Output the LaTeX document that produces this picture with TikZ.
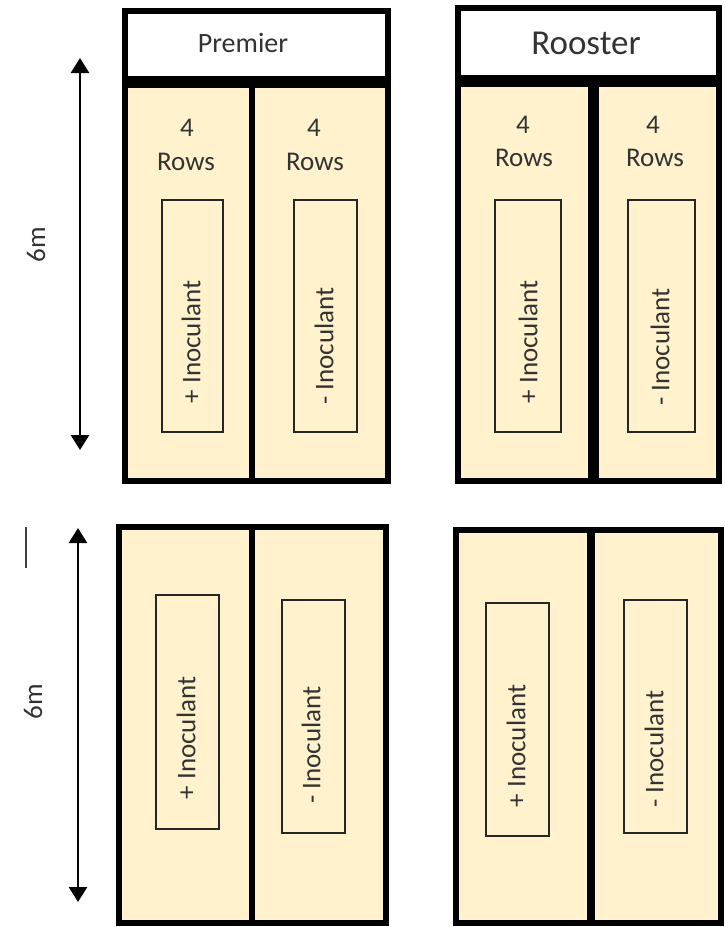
\documentclass[tikz,border=0pt]{standalone}
\usepackage{fontspec}
\setmainfont{Carlito}
\usetikzlibrary{arrows.meta}
\definecolor{cream}{HTML}{FFF2CC}
\definecolor{txt}{HTML}{333333}
\begin{document}
\begin{tikzpicture}[x=1pt,y=-1pt,
  plotbox/.style={draw=black,line width=6pt,fill=cream},
  hdrbox/.style={draw=black,line width=6pt,fill=white},
  trtbox/.style={draw=black!85,line width=2pt,fill=cream},
  lbl/.style={text=txt,font=\fontsize{27}{30}\selectfont,inner sep=0pt},
  rotlbl/.style={lbl,rotate=90},
  dimarrow/.style={line width=2.6pt,{Triangle[width=18pt,length=15pt]}-{Triangle[width=18pt,length=15pt]}}]
\useasboundingbox (0,0) rectangle (725,927);

% ---------- Premier (top left)
\draw[hdrbox] (125,11) rectangle (388,82);
\draw[plotbox] (125,82) rectangle (388,481);
\draw[line width=12pt] (122,82) -- (391,82);
\draw[line width=6pt] (252,82) -- (252,481);
\draw[trtbox] (162,200) rectangle (223,432);
\draw[trtbox] (294,200) rectangle (357,432);
\node[lbl,font=\fontsize{28}{30}\selectfont] (premier) at (243,43) {Premier};
\node[lbl] (p4a) at (187,128) {4};
\node[lbl] (prowa) at (186,162) {Rows};
\node[lbl] (p4b) at (314,128) {4};
\node[lbl] (prowb) at (315,162) {Rows};
\node[rotlbl] (ppa) at (191,342) {+ Inoculant};
\node[rotlbl] (ppb) at (324,346) {- Inoculant};

% ---------- Rooster (top right)
\draw[hdrbox] (458,8) rectangle (719,81);
\draw[plotbox] (458,81) rectangle (719,481);
\draw[line width=12pt] (455,81) -- (722,81);
\draw[line width=11pt] (593.5,81) -- (593.5,481);
\draw[trtbox] (495,200) rectangle (561,432);
\draw[trtbox] (628,200) rectangle (695,432);
\node[lbl,font=\fontsize{35}{38}\selectfont] (rooster) at (586,43) {Rooster};
\node[lbl] (r4a) at (523,125) {4};
\node[lbl] (rrowa) at (524,158) {Rows};
\node[lbl] (r4b) at (653,125) {4};
\node[lbl] (rrowb) at (655,158) {Rows};
\node[rotlbl] (rpa) at (528,342) {+ Inoculant};
\node[rotlbl] (rpb) at (660,347) {- Inoculant};

% ---------- bottom left
\draw[plotbox] (119,526.5) rectangle (386,923);
\draw[line width=6pt] (251.5,526.5) -- (251.5,923);
\draw[trtbox] (156,595) rectangle (219,829);
\draw[trtbox] (282,600) rectangle (345,833);
\node[rotlbl] (bpa) at (186,738) {+ Inoculant};
\node[rotlbl] (bpb) at (311,745) {- Inoculant};

% ---------- bottom right
\draw[plotbox] (456,529.5) rectangle (721,923);
\draw[line width=8pt] (590.5,529.5) -- (590.5,923);
\draw[trtbox] (486,603) rectangle (549,836);
\draw[trtbox] (624,600) rectangle (687,833);
\node[rotlbl] (brpa) at (516,746) {+ Inoculant};
\node[rotlbl] (brpb) at (654,749) {- Inoculant};

% ---------- dimensions
\coordinate (a1t) at (80,58);
\coordinate (a1b) at (80,450);
\draw[dimarrow] (a1t) -- (a1b);
\node[rotlbl] (six1) at (36,245) {6m};

\coordinate (a2t) at (78,528);
\coordinate (a2b) at (78,902);
\draw[dimarrow] (a2t) -- (a2b);
\node[rotlbl] (six2) at (33,702) {6m};

\coordinate (tickt) at (26,527);
\coordinate (tickb) at (26,568);
\draw[line width=1.6pt,black!75] (tickt) -- (tickb);
\end{tikzpicture}
\end{document}
